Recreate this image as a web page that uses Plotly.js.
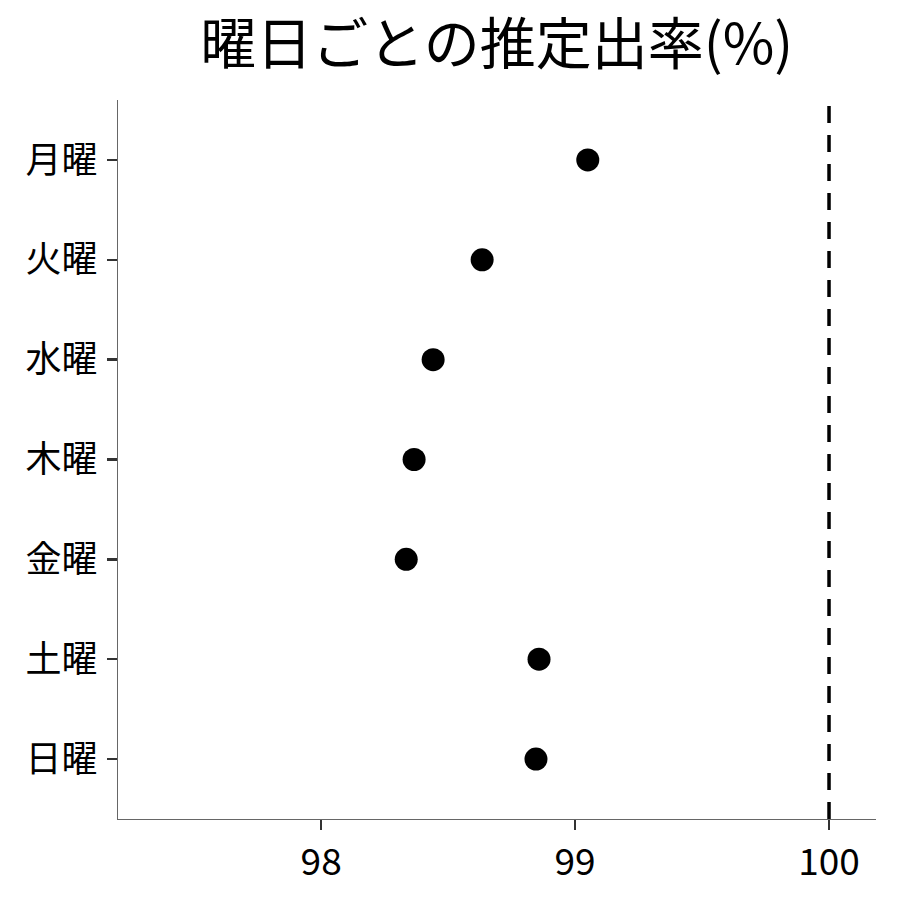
<!DOCTYPE html>
<html>
<head>
<meta charset="utf-8">
<script src="https://cdn.plot.ly/plotly-3.0.1.min.js"></script>
<style>body{margin:0;background:#fff}#graph{width:900px;height:900px}</style>
</head>
<body>
<div id="graph"></div>
<script>
// 曜日ごとの推定出率
var days = ['月曜', '火曜', '水曜', '木曜', '金曜', '土曜', '日曜'];
var rates = [99.05, 98.634, 98.441, 98.366, 98.335, 98.858, 98.846];
var xTicks = [98, 99, 100];
var refLine = 100;

var font = '"Noto Sans CJK JP", "Noto Sans", sans-serif';

var trace = {
  x: rates,
  y: days,
  type: 'scatter',
  mode: 'markers',
  marker: {color: '#000', size: 23},
  hoverinfo: 'x+y'
};

var layout = {
  width: 900,
  height: 900,
  margin: {l: 118, r: 24, t: 100, b: 81},
  paper_bgcolor: '#fff',
  plot_bgcolor: '#fff',
  showlegend: false,
  font: {family: font, color: '#000'},
  title: {text: '曜日ごとの推定出率(%)', font: {size: 56, family: font, color: '#000'},
          x: 0.552, xanchor: 'center', y: 0.951, yanchor: 'middle'},
  xaxis: {
    range: [97.2, 100.185],
    tickvals: xTicks,
    ticktext: xTicks.map(String),
    showgrid: false, zeroline: false,
    showline: true, linecolor: '#666', linewidth: 1.3,
    ticks: 'outside', ticklen: 10, tickwidth: 2.5, tickcolor: '#333',
    tickfont: {size: 37, family: font, color: '#000'}
  },
  yaxis: {
    type: 'category',
    categoryorder: 'array', categoryarray: days,
    range: [6.6, -0.6],
    showgrid: false, zeroline: false,
    showline: true, linecolor: '#666', linewidth: 1.3,
    ticks: 'outside', ticklen: 10, tickwidth: 2.5, tickcolor: '#333',
    ticklabelstandoff: 2,
    tickfont: {size: 36, family: font, color: '#000'}
  },
  shapes: [{
    type: 'line', xref: 'x', yref: 'paper',
    x0: refLine, x1: refLine, y0: 0, y1: 1,
    line: {color: '#000', width: 3.5, dash: '17px,12px'}
  }]
};

Plotly.newPlot('graph', [trace], layout, {staticPlot: true});
</script>
</body>
</html>
